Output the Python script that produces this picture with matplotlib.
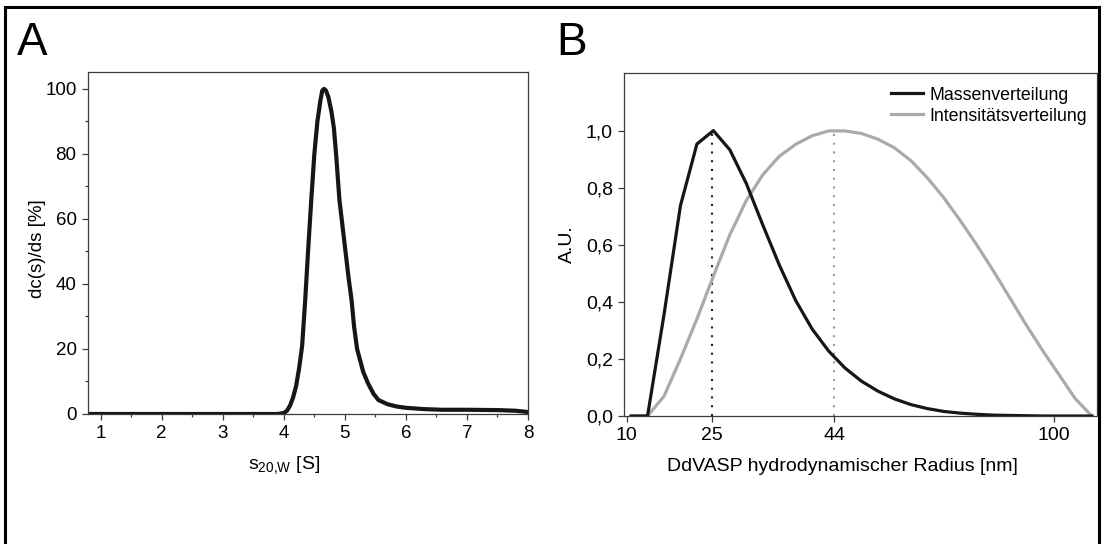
import numpy as np
import matplotlib
matplotlib.use("Agg")
import matplotlib.pyplot as plt
from matplotlib.lines import Line2D

plt.rcParams['font.family'] = ['Liberation Sans', 'DejaVu Sans']
plt.rcParams['mathtext.fontset'] = 'custom'
plt.rcParams['mathtext.rm'] = 'Liberation Sans'
plt.rcParams['mathtext.default'] = 'regular'

# panel A: sedimentation coefficient distribution
s_val = [0.8, 3.9, 4.0, 4.05, 4.1, 4.15, 4.2, 4.25, 4.3, 4.35, 4.4, 4.45, 4.5, 4.55,
         4.6, 4.63, 4.66, 4.69, 4.73, 4.78, 4.82, 4.86, 4.91, 4.96, 5.01, 5.06, 5.11,
         5.15, 5.2, 5.3, 5.38, 5.47, 5.55, 5.7, 5.85, 6.0, 6.3, 6.6, 7.0, 7.5, 7.8, 8.0]
dcds = [0, 0, 0.3, 1.0, 2.5, 5, 8.5, 14, 21, 35, 51, 66, 80, 90,
        96.5, 99.5, 100, 99.5, 97.5, 93, 88, 79, 66, 58, 50, 42, 35,
        27, 20, 13, 9.4, 6.2, 4.3, 3.0, 2.3, 1.9, 1.5, 1.3, 1.3, 1.2, 1.0, 0.6]

# panel B: DLS bins (equally spaced bins, labelled radii)
bins = np.arange(29)
masse = [0, 0, 0.355, 0.737, 0.953, 1.0, 0.933, 0.815, 0.67, 0.53, 0.405, 0.305,
         0.228, 0.168, 0.122, 0.087, 0.06, 0.04, 0.026, 0.016, 0.01, 0.006,
         0.003, 0.002, 0.001, 0, 0, 0, 0]
intens = [0, 0, 0.069, 0.2, 0.34, 0.49, 0.635, 0.755, 0.845, 0.91, 0.952, 0.982,
          0.999, 0.999, 0.99, 0.97, 0.94, 0.895, 0.835, 0.765, 0.685, 0.6, 0.51,
          0.415, 0.32, 0.23, 0.145, 0.06, 0.0]
r_tick_pos = [-0.26, 4.9, 12.35, 25.7]
r_tick_lab = ['10', '25', '44', '100']
peak_masse = 4.9
peak_intens = 12.35

W, H = 1102, 544
fig = plt.figure(figsize=(W / 100, H / 100), dpi=100)

# outer frame
for xs, ys in [([5, 1099], [7, 7]), ([5, 5], [7, 560]), ([1099, 1099], [7, 560])]:
    fig.add_artist(Line2D([x / W for x in xs], [1 - y / H for y in ys],
                          color='black', lw=2.2, transform=fig.transFigure))

spine_c = '#3c3c3c'

# ---- A ----
axA = fig.add_axes([87.7 / W, 1 - 414 / H, (528 - 87.7) / W, (414 - 72) / H])
axA.plot(s_val, dcds, color='#161616', lw=3, solid_joinstyle='round')
axA.set_xlim(0.787, 8)
axA.set_ylim(0, 105.2)
axA.set_xticks(range(1, 9))
axA.set_xticks(np.arange(1.5, 8, 0.5), minor=True)
axA.set_yticks(range(0, 101, 20))
axA.set_yticks(range(10, 100, 20), minor=True)
axA.tick_params(which='both', direction='out', labelsize=13.5, color=spine_c, width=0.9)
axA.tick_params(which='major', length=4, pad=4)
axA.tick_params(which='minor', length=2.5)
axA.set_xlabel(r's$_{20{,}W}$ [S]', fontsize=14)
axA.xaxis.set_label_coords(0.447, -0.149)
axA.xaxis.label.set_va('center')
axA.set_ylabel('dc(s)/ds [%]', fontsize=13.5)
axA.yaxis.set_label_coords(-0.115, 0.485)
axA.yaxis.label.set_va('center')
for sp in axA.spines.values():
    sp.set_color(spine_c)
    sp.set_linewidth(0.9)
fig.text(17 / W, 1 - 43 / H, 'A', fontsize=33, va='center', ha='left')

# ---- B ----
axB = fig.add_axes([624 / W, 1 - 416 / H, (1096.5 - 624) / W, (416 - 73) / H])
axB.plot([peak_masse, peak_masse], [0, 1.0], color='#222222', lw=1.5, ls=(0, (1, 3.2)))
axB.plot([peak_intens, peak_intens], [0, 1.0], color='#9a9a9a', lw=1.5, ls=(0, (1, 3.2)))
axB.plot(bins, intens, color='#aaaaaa', lw=2.3, label='Intensitätsverteilung',
         solid_joinstyle='round')
axB.plot(bins, masse, color='#161616', lw=2.3, label='Massenverteilung',
         solid_joinstyle='round')
axB.set_xlim(-0.43, 28.28)
axB.set_ylim(0, 1.202)
axB.set_xticks(r_tick_pos)
axB.set_xticklabels(r_tick_lab)
axB.set_yticks(np.arange(0, 1.01, 0.2))
axB.set_yticklabels([f'{v:.1f}'.replace('.', ',') for v in np.arange(0, 1.01, 0.2)])
axB.tick_params(direction='out', labelsize=14, length=4, pad=4, color=spine_c, width=0.9)
axB.set_xlabel('DdVASP hydrodynamischer Radius [nm]', fontsize=14)
axB.xaxis.set_label_coords(0.462, -0.148)
axB.xaxis.label.set_va('center')
axB.set_ylabel('A.U.', fontsize=14)
axB.yaxis.set_label_coords(-0.12, 0.5)
axB.yaxis.label.set_va('center')
for sp in axB.spines.values():
    sp.set_color(spine_c)
    sp.set_linewidth(0.9)
h, l = axB.get_legend_handles_labels()
axB.legend(h[::-1], l[::-1], loc='upper left', bbox_to_anchor=(0.565, 0.96),
           frameon=False, fontsize=12.8, handlelength=1.8, handletextpad=0.35,
           labelspacing=0.22, borderpad=0, borderaxespad=0)
fig.text(556 / W, 1 - 43 / H, 'B', fontsize=33, va='center', ha='left')

fig.savefig('out.png', dpi=100)
